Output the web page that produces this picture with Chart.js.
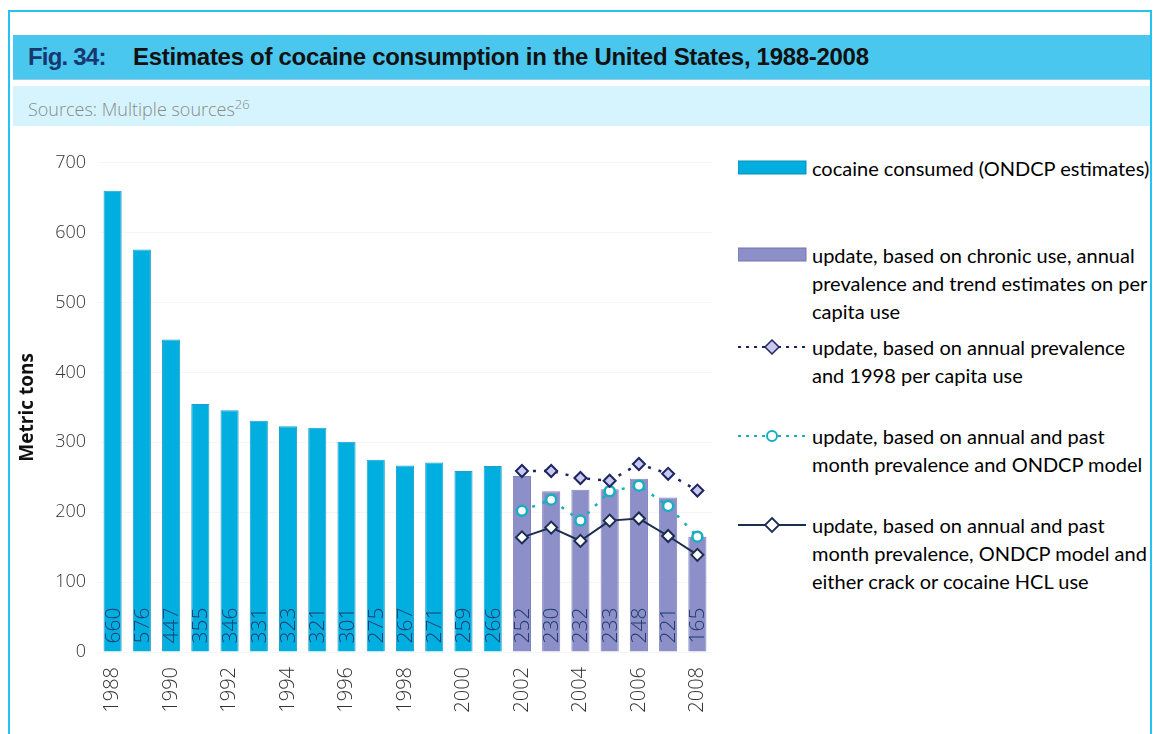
<!DOCTYPE html>
<html>
<head>
<meta charset="utf-8">
<script src="https://cdn.jsdelivr.net/npm/chart.js@4.4.0/dist/chart.umd.min.js"></script>
<style>
  body { margin: 0; width: 1158px; height: 734px; background: #fff; position: relative; overflow: hidden; font-family: "Open Sans", sans-serif; }
  #frame { position: absolute; left: 8px; top: 10px; width: 1144px; height: 740px; border: 2px solid #27c2f0; box-sizing: border-box; }
  #title { position: absolute; left: 13px; top: 35px; width: 1137px; height: 44px; background: #4ac7ef; border-bottom: 1px solid #8ccfe6; font-family: "Liberation Sans", Arial, sans-serif; font-weight: bold; font-size: 24px; line-height: 44px; color: #111; }
  #title .fig { position: absolute; left: 15px; color: #17386f; letter-spacing: -0.8px; }
  #title .txt { position: absolute; left: 120px; letter-spacing: -0.3px; }
  #sub { position: absolute; left: 13px; top: 86px; width: 1137px; height: 40px; background: #d6f4fd; font-size: 18px; line-height: 36px; color: #8a8a8a; font-weight: 300; }
  #sub span { position: absolute; left: 15px; }
  #sub sup { font-size: 13px; }
  #chartBox { position: absolute; left: 0; top: 140px; width: 720px; height: 594px; }
  .leg { position: absolute; left: 738px; font-family: Lato, "Open Sans", sans-serif; font-size: 20px; line-height: 28px; color: #000; }
  .leg svg { position: absolute; left: 0; top: 0; }
  .leg div { position: absolute; left: 74px; top: 0; width: 350px; }
</style>
</head>
<body>
<div id="frame"></div>
<div id="title"><span class="fig">Fig. 34:</span><span class="txt">Estimates of cocaine consumption in the United States, 1988-2008</span></div>
<div id="sub"><span>Sources: Multiple sources<sup>26</sup></span></div>
<div id="chartBox"><canvas id="chart"></canvas></div>

<div class="leg" style="top:154px">
  <svg width="70" height="28"><rect x="0" y="7" width="68" height="13" fill="#00afe0" stroke="#0a8fb8" stroke-width="1"/></svg>
  <div>cocaine consumed (ONDCP estimates)</div>
</div>
<div class="leg" style="top:241px">
  <svg width="70" height="28"><rect x="0" y="7" width="68" height="13" fill="#8d8fc9" stroke="#7275ad" stroke-width="1"/></svg>
  <div>update, based on chronic use, annual prevalence and trend estimates on per capita use</div>
</div>
<div class="leg" style="top:333px">
  <svg width="70" height="28"><line x1="0" y1="14" x2="68" y2="14" stroke="#1d2660" stroke-width="2" stroke-dasharray="3,5"/><path d="M34 7 L41 14 L34 21 L27 14 Z" fill="#c9c9f0" stroke="#1d2660" stroke-width="1.5"/></svg>
  <div>update, based on annual prevalence and 1998 per capita use</div>
</div>
<div class="leg" style="top:422px">
  <svg width="70" height="28"><line x1="0" y1="14" x2="68" y2="14" stroke="#17aebf" stroke-width="2" stroke-dasharray="3,5"/><circle cx="34" cy="14" r="5" fill="#fff" stroke="#17aebf" stroke-width="2"/></svg>
  <div>update, based on annual and past month prevalence and ONDCP model</div>
</div>
<div class="leg" style="top:511px">
  <svg width="70" height="28"><line x1="0" y1="14" x2="68" y2="14" stroke="#1b2e4f" stroke-width="2"/><path d="M34 7 L41 14 L34 21 L27 14 Z" fill="#fff" stroke="#1b2e4f" stroke-width="1.8"/></svg>
  <div>update, based on annual and past month prevalence, ONDCP model and either crack or cocaine HCL use</div>
</div>

<script>
'use strict';

const years = ['1988', '1989', '1990', '1991', '1992', '1993', '1994', '1995', '1996', '1997',
  '1998', '1999', '2000', '2001', '2002', '2003', '2004', '2005', '2006', '2007', '2008'];

// ONDCP推計 (1988-2001)
const ondcpValues = [660, 576, 447, 355, 346, 331, 323, 321, 301, 275, 267, 271, 259, 266,
  null, null, null, null, null, null, null];
// 更新推計 (2002-2008)
const chronicValues = [null, null, null, null, null, null, null, null, null, null, null, null, null, null,
  252, 230, 232, 233, 248, 221, 165];
const prevalence1998Values = [null, null, null, null, null, null, null, null, null, null, null, null, null, null,
  259, 259, 249, 245, 269, 255, 231];
const ondcpModelValues = [null, null, null, null, null, null, null, null, null, null, null, null, null, null,
  202, 218, 188, 230, 238, 209, 165];
const crackHclValues = [null, null, null, null, null, null, null, null, null, null, null, null, null, null,
  164, 178, 159, 188, 191, 166, 139];

const yTicks = [0, 100, 200, 300, 400, 500, 600, 700];

// バーの中に値を縦書きで描く
const barLabels = {
  id: 'barLabels',
  afterDatasetsDraw(chart) {
    const ctx = chart.ctx;
    ctx.save();
    ctx.font = '300 21px "Open Sans", sans-serif';
    ctx.fillStyle = '#1f3c6e';
    ctx.textAlign = 'left';
    ctx.textBaseline = 'middle';
    chart.data.datasets.forEach((ds, i) => {
      if (ds.type !== 'bar') return;
      const meta = chart.getDatasetMeta(i);
      meta.data.forEach((el, j) => {
        const v = ds.data[j];
        if (v === null) return;
        ctx.save();
        ctx.translate(el.x, el.base - 8);
        ctx.rotate(-Math.PI / 2);
        ctx.fillText(String(v), 0, 1);
        ctx.restore();
      });
    });
    ctx.restore();
  }
};

const ctx = document.getElementById('chart').getContext('2d');

new Chart(ctx, {
  data: {
    labels: years,
    datasets: [
      {
        type: 'line',
        label: 'update, based on annual prevalence and 1998 per capita use',
        data: prevalence1998Values,
        borderColor: '#1d2660',
        borderWidth: 2.5,
        borderDash: [3, 8],
        pointStyle: 'rectRot',
        pointRadius: 6,
        pointBackgroundColor: '#c9c9f0',
        pointBorderColor: '#1d2660',
        pointBorderWidth: 2,
        order: 0,
      },
      {
        type: 'line',
        label: 'update, based on annual and past month prevalence and ONDCP model',
        data: ondcpModelValues,
        borderColor: '#17aebf',
        borderWidth: 2.5,
        borderDash: [3, 8],
        pointStyle: 'circle',
        pointRadius: 5,
        pointBackgroundColor: '#ffffff',
        pointBorderColor: '#17aebf',
        pointBorderWidth: 2.5,
        order: 0,
      },
      {
        type: 'line',
        label: 'update, based on annual and past month prevalence, ONDCP model and either crack or cocaine HCL use',
        data: crackHclValues,
        borderColor: '#1b2e4f',
        borderWidth: 2,
        pointStyle: 'rectRot',
        pointRadius: 6,
        pointBackgroundColor: '#ffffff',
        pointBorderColor: '#1b2e4f',
        pointBorderWidth: 2,
        order: 0,
      },
      {
        type: 'bar',
        label: 'cocaine consumed (ONDCP estimates)',
        data: ondcpValues,
        backgroundColor: '#00afe0',
        borderColor: '#20a0c8',
        borderWidth: 1,
        grouped: false,
        barPercentage: 0.62,
        categoryPercentage: 1,
        order: 1,
      },
      {
        type: 'bar',
        label: 'update, based on chronic use, annual prevalence and trend estimates on per capita use',
        data: chronicValues,
        backgroundColor: '#8d8fc9',
        borderColor: '#8082bd',
        borderWidth: 1,
        grouped: false,
        barPercentage: 0.62,
        categoryPercentage: 1,
        order: 1,
      },
    ]
  },
  options: {
    responsive: true,
    maintainAspectRatio: false,
    animation: false,
    layout: { padding: { top: 20, right: 8, left: 0, bottom: 0 } },
    plugins: {
      legend: { display: false },
      tooltip: { enabled: false },
    },
    scales: {
      x: {
        grid: { display: false, drawTicks: false },
        border: { display: false },
        ticks: {
          autoSkip: false,
          maxRotation: 90,
          minRotation: 90,
          padding: 15,
          color: '#333',
          font: { family: 'Open Sans', size: 20, weight: '300' },
          callback: function (value, index) {
            return index % 2 === 0 ? years[index] : '';
          },
        },
        afterFit(scale) {
          scale.height = 82;
          scale.paddingLeft = 0;
          scale.paddingRight = 0;
        },
      },
      y: {
        min: 0,
        max: 700,
        afterBuildTicks(scale) { scale.ticks = yTicks.map(v => ({ value: v })); },
        grid: { color: '#f4f7f9', drawTicks: false },
        border: { display: false },
        ticks: {
          padding: 12,
          color: '#333',
          font: { family: 'Open Sans', size: 18, weight: '300' },
        },
        title: {
          display: true,
          text: 'Metric tons',
          color: '#111',
          font: { family: 'Open Sans', size: 19, weight: 'bold' },
          padding: { top: 16, bottom: 0 },
        },
        afterFit(scale) { scale.width = 98; },
      }
    }
  },
  plugins: [barLabels],
});
</script>
</body>
</html>
